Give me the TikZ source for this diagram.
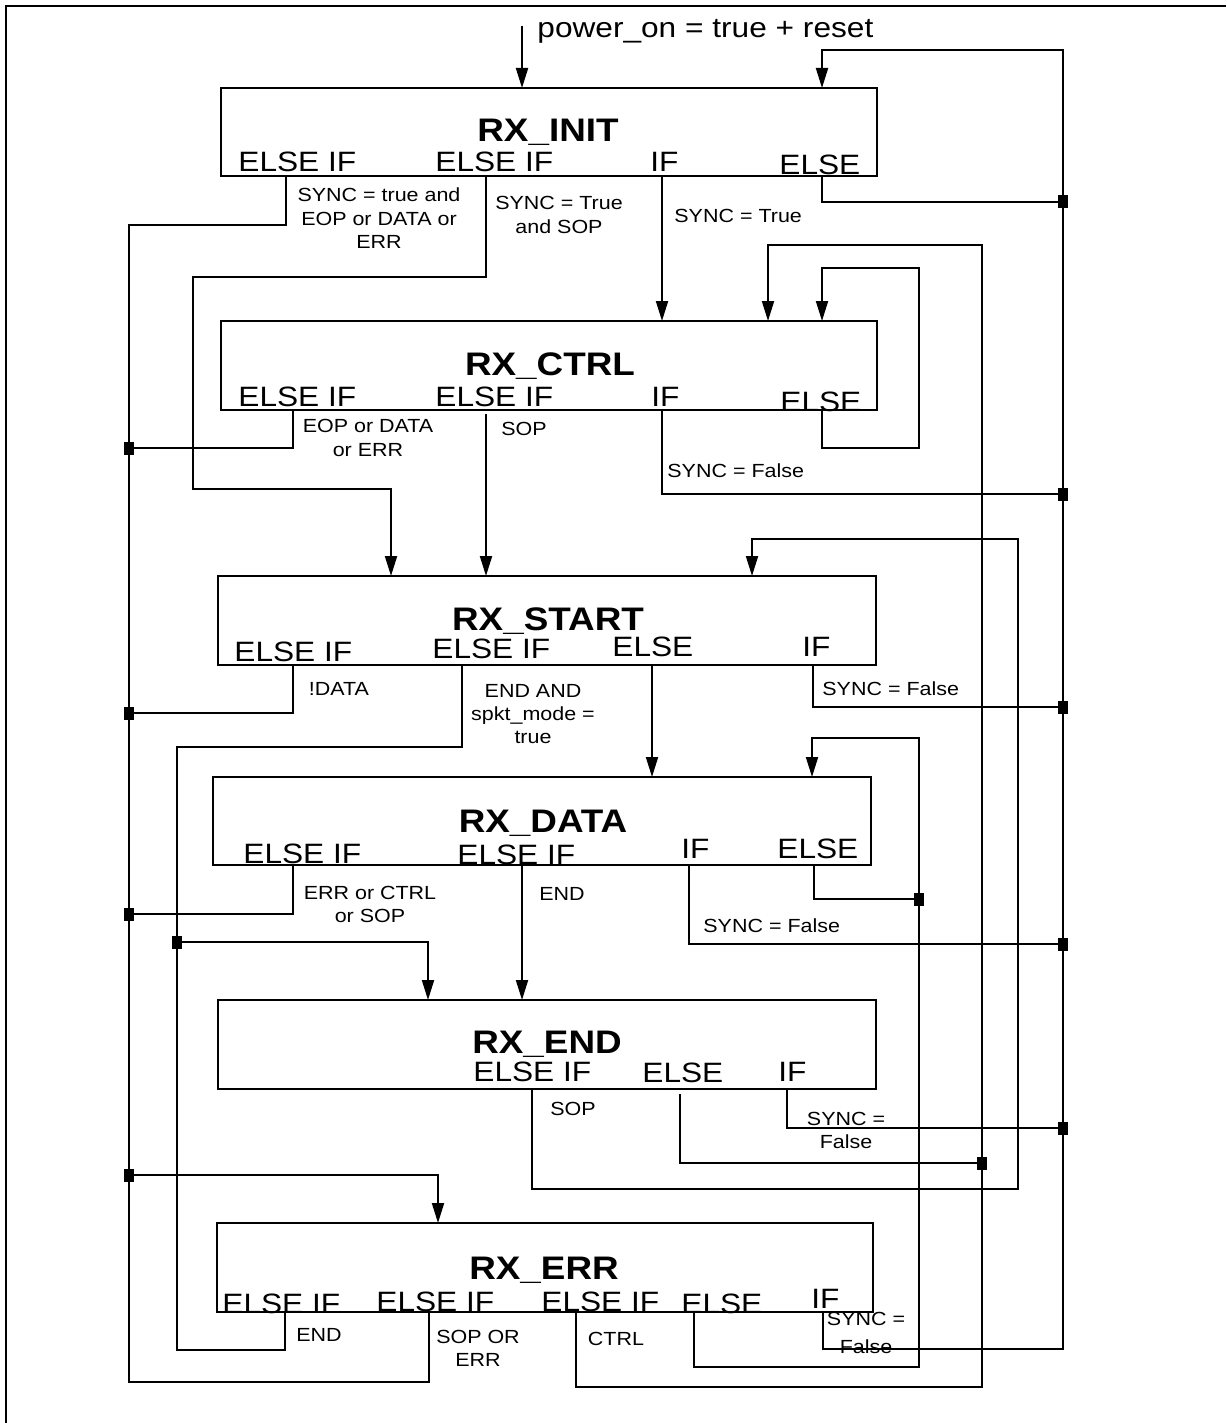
\documentclass[tikz,border=0pt]{standalone}
\usepackage{fontspec}
\setmainfont{Liberation Sans}[FakeStretch=1.13]
\usetikzlibrary{arrows.meta}
\newcommand{\mlines}[1]{\begin{tabular}[t]{@{}c@{}}#1\end{tabular}}
\begin{document}
\begin{tikzpicture}[x=0.5pt,y=-0.5pt,
 box/.style={draw, line width=1.3pt, inner sep=0pt, outer sep=0pt},
 wire/.style={line width=1pt},
 arr/.style={wire, -{Triangle[length=10pt,width=6pt]}},
 jn/.style={fill=black, inner sep=0pt, outer sep=0pt, minimum width=5pt, minimum height=6.5pt},
 ttl/.style={anchor=base, inner sep=0pt, font=\fontsize{16.3}{19}\selectfont\bfseries},
 lbl/.style={anchor=base west, inner sep=0pt, font=\fontsize{14}{16}\selectfont},
 sml/.style={anchor=base, inner sep=0pt, font=\fontsize{9.5}{11.7}\selectfont},
 smlw/.style={sml, anchor=base west}]
\useasboundingbox (0,0) rectangle (1226,1423);
% frame
\draw[line width=1.2pt] (6,1423) -- (6,6) -- (1226,6);

% state boxes
\node[box, minimum width=328pt, minimum height=44pt]   (rxinit)  at (549,132) {};
\node[box, minimum width=328pt, minimum height=44.5pt] (rxctrl)  at (549,365.5) {};
\node[box, minimum width=329pt, minimum height=44.5pt] (rxstart) at (547,620.5) {};
\node[box, minimum width=329pt, minimum height=44pt]   (rxdata)  at (542,821) {};
\node[box, minimum width=329pt, minimum height=44.5pt] (rxend)   at (547,1044.5) {};
\node[box, minimum width=328pt, minimum height=44.5pt] (rxerr)   at (545,1267.5) {};

% titles
\node[ttl] (t1) at (548,142) {RX\_INIT};
\node[ttl] (t2) at (550,375) {RX\_CTRL};
\node[ttl] (t3) at (548,630) {RX\_START};
\node[ttl] (t4) at (543,832) {RX\_DATA};
\node[ttl] (t5) at (547,1053) {RX\_END};
\node[ttl] (t6) at (544,1279) {RX\_ERR};

% branch labels
\node[lbl] (l11) at (238,172) {ELSE IF};
\node[lbl] (l12) at (435,172) {ELSE IF};
\node[lbl] (l13) at (650,172) {IF};
\node[lbl] (l14) at (779,175) {ELSE};
\node[lbl] (l21) at (238,406.7) {ELSE IF};
\node[lbl] (l22) at (435,406.7) {ELSE IF};
\node[lbl] (l23) at (651,406.7) {IF};
\node[lbl] (l24) at (780,411) {ELSE};
\node[lbl] (l31) at (234,661.7) {ELSE IF};
\node[lbl] (l32) at (432,658) {ELSE IF};
\node[lbl] (l33) at (612,656.7) {ELSE};
\node[lbl] (l34) at (802,656.7) {IF};
\node[lbl] (l41) at (243,863) {ELSE IF};
\node[lbl] (l42) at (457,864) {ELSE IF};
\node[lbl] (l43) at (681,858) {IF};
\node[lbl] (l44) at (777,858) {ELSE};
\node[lbl] (l51) at (473,1081.7) {ELSE IF};
\node[lbl] (l52) at (642,1082.7) {ELSE};
\node[lbl] (l53) at (778,1081.7) {IF};
\node[lbl] (l61) at (222,1313) {ELSE IF};
\node[lbl] (l62) at (376,1311.7) {ELSE IF};
\node[lbl] (l63) at (541,1311) {ELSE IF};
\node[lbl] (l64) at (681,1313) {ELSE};
\node[lbl] (l65) at (811,1308) {IF};

% condition labels
\node[lbl] (pw) at (537,38) {power\_on = true + reset};
\node[sml] (c11) at (379,201.7) {\mlines{SYNC = true and\\EOP or DATA or\\ERR}};
\node[sml] (c12) at (559,210) {\mlines{SYNC = True\\and SOP}};
\node[smlw] (c13) at (674,222.7) {SYNC = True};
\node[sml] (c21) at (368,432.7) {\mlines{EOP or DATA\\or ERR}};
\node[sml] (c22) at (524,435) {SOP};
\node[smlw] (c23) at (667,477) {SYNC = False};
\node[sml] (c31) at (339,695.7) {!DATA};
\node[sml] (c32) at (533,697) {\mlines{END AND\\spkt\_mode =\\true}};
\node[smlw] (c34) at (822,695.7) {SYNC = False};
\node[sml] (c41) at (370,899) {\mlines{ERR or CTRL\\or SOP}};
\node[sml] (c42) at (562,900) {END};
\node[smlw] (c43) at (703,932.3) {SYNC = False};
\node[sml] (c51) at (573,1115) {SOP};
\node[sml] (c53) at (846,1125) {\mlines{SYNC =\\False}};
\node[sml] (c61) at (319,1341.7) {END};
\node[sml] (c62) at (478,1343) {\mlines{SOP OR\\ERR}};
\node[sml] (c63) at (616,1345.7) {CTRL};
\node[sml] (c65) at (866,1325.7) {\mlines{SYNC =\\[2pt]False}};

% ports
\coordinate (pwr) at (522,26);
\coordinate (init-a) at (522,88);  \coordinate (init-b) at (822,88);
\coordinate (init-1) at (286,176); \coordinate (init-2) at (486,176);
\coordinate (init-3) at (662,176); \coordinate (init-4) at (822,176);
\coordinate (ctrl-a) at (662,321); \coordinate (ctrl-b) at (768,321); \coordinate (ctrl-c) at (822,321);
\coordinate (ctrl-1) at (293,410); \coordinate (ctrl-2) at (486,414);
\coordinate (ctrl-3) at (662,410); \coordinate (ctrl-4) at (822,410);
\coordinate (start-a) at (391,576); \coordinate (start-b) at (486,576); \coordinate (start-c) at (752,576);
\coordinate (start-1) at (293,665); \coordinate (start-2) at (462,665);
\coordinate (start-3) at (652,665); \coordinate (start-4) at (813,665);
\coordinate (data-a) at (652,777); \coordinate (data-b) at (812,777);
\coordinate (data-1) at (293,865); \coordinate (data-2) at (522,865);
\coordinate (data-3) at (689,865); \coordinate (data-4) at (814,865);
\coordinate (end-a) at (428,1000); \coordinate (end-b) at (522,1000);
\coordinate (end-1) at (532,1089); \coordinate (end-2) at (680,1094); \coordinate (end-3) at (787,1089);
\coordinate (err-a) at (438,1223);
\coordinate (err-1) at (285,1312); \coordinate (err-2) at (429,1312); \coordinate (err-3) at (576,1312);
\coordinate (err-4) at (694,1312); \coordinate (err-5) at (823,1312);

% bus corners and junctions
\coordinate (busI-top) at (1063,50);  \coordinate (busI-bot) at (1063,1349);
\coordinate (busC-top) at (982,245);  \coordinate (busC-bot) at (982,1387);
\coordinate (busS-top) at (1018,539); \coordinate (busS-bot) at (1018,1189);
\coordinate (busD-top) at (919,738);  \coordinate (busD-bot) at (919,1367);
\coordinate (busE-top) at (177,747);  \coordinate (busE-bot) at (177,1350);
\coordinate (busR-top) at (129,225);  \coordinate (busR-bot) at (129,1382);
\coordinate (loopC1) at (919,448); \coordinate (loopC2) at (919,268);
\coordinate (bendA1) at (193,277); \coordinate (bendA2) at (193,489);
\node[jn] (jI1) at (1063,202) {};
\node[jn] (jI2) at (1063,494) {};
\node[jn] (jI3) at (1063,707) {};
\node[jn] (jI4) at (1063,944) {};
\node[jn] (jI5) at (1063,1128) {};
\node[jn] (jC1) at (982,1163) {};
\node[jn] (jD1) at (919,899) {};
\node[jn] (jE1) at (177,942) {};
\node[jn] (jR1) at (129,448) {};
\node[jn] (jR2) at (129,713) {};
\node[jn] (jR3) at (129,914) {};
\node[jn] (jR4) at (129,1175) {};

% straight transitions
\draw[arr] (pwr) -- (init-a);
\draw[arr] (init-3) -- (ctrl-a);
\draw[arr] (ctrl-2) -- (start-b);
\draw[arr] (start-3) -- (data-a);
\draw[arr] (data-2) -- (end-b);
\draw[arr] (init-2) |- (bendA1) -- (bendA2) -| (start-a);
\draw[arr] (ctrl-4) |- (loopC1) -- (loopC2) -| (ctrl-c);

% bus to RX_INIT
\draw[arr] (err-5) |- (busI-bot) -- (busI-top) -| (init-b);
\draw[wire] (init-4) |- (jI1.center);
\draw[wire] (ctrl-3) |- (jI2.center);
\draw[wire] (start-4) |- (jI3.center);
\draw[wire] (data-3) |- (jI4.center);
\draw[wire] (end-3) |- (jI5.center);

% bus to RX_CTRL
\draw[arr] (err-3) |- (busC-bot) -- (busC-top) -| (ctrl-b);
\draw[wire] (end-2) |- (jC1.center);

% bus to RX_START
\draw[arr] (end-1) |- (busS-bot) -- (busS-top) -| (start-c);

% bus to RX_DATA
\draw[arr] (err-4) |- (busD-bot) -- (busD-top) -| (data-b);
\draw[wire] (data-4) |- (jD1.center);

% bus to RX_END
\draw[wire] (start-2) |- (busE-top) -- (busE-bot) -| (err-1);
\draw[arr] (jE1.center) -| (end-a);

% bus to RX_ERR
\draw[wire] (init-1) |- (busR-top) -- (busR-bot) -| (err-2);
\draw[wire] (ctrl-1) |- (jR1.center);
\draw[wire] (start-1) |- (jR2.center);
\draw[wire] (data-1) |- (jR3.center);
\draw[arr] (jR4.center) -| (err-a);
\end{tikzpicture}
\end{document}
